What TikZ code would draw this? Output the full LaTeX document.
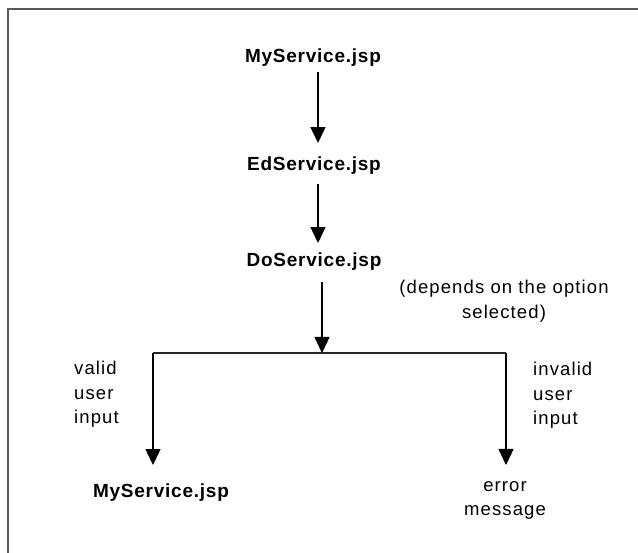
\documentclass[tikz,border=0pt]{standalone}
\usepackage{fontspec}
\setmainfont{Liberation Sans}
\newfontfamily\lblfont[LetterSpace=6]{Liberation Sans}
\newfontfamily\pagefont[LetterSpace=4]{Liberation Sans}
\usetikzlibrary{arrows.meta}

\begin{document}
\begin{tikzpicture}[x=1pt,y=-1pt,
  page/.style={font=\pagefont\bfseries\fontsize{19}{23}\selectfont, inner sep=0pt, anchor=base},
  note/.style={font=\lblfont\fontsize{18.5}{24.5}\selectfont, inner sep=0pt},
  flow/.style={line width=1.3pt, draw=black, -{Triangle[width=15pt,length=16pt]}},
  bar/.style={line width=1.6pt, draw=black!85},
  frame/.style={line width=2pt, draw=black!65}]

  \useasboundingbox (0,0) rectangle (638,553);

  % outer frame, running off the right and bottom edges
  \draw[frame] (8,560) -- (8,9) -- (645,9);

  % pages
  \node[page] (top) at (313,63)  {MyService.jsp};
  \node[page] (ed)  at (314,171) {EdService.jsp};
  \node[page] (do)  at (314,267) {DoService.jsp};
  \node[page] (res) at (161,498) {MyService.jsp};

  % notes
  \node[note, anchor=north, align=center] (dep) at (504,280) {(depends on the option\\selected)};
  \node[note, anchor=north west, align=left] (ok) at (74,361) {valid\\user\\input};
  \node[note, anchor=north west, align=left] (bad) at (533,362) {invalid\\user\\input};
  \node[note, anchor=north, align=center] (err) at (505,481) {error\\message};

  % branch points
  \coordinate (split) at (322,353);
  \coordinate (lb) at (153,353);
  \coordinate (rb) at (506,353);

  % flow
  \draw[flow, shorten <=5pt, shorten >=14pt] ([xshift=5pt]top.south) -- ([xshift=5pt]top.south |- ed.north);
  \draw[flow, shorten <=9pt, shorten >=10pt] ([xshift=4pt]ed.south) -- ([xshift=4pt]ed.south |- do.north);
  \draw[flow, shorten <=11pt] ([xshift=8pt]do.south) -- (split);
  \draw[bar] (lb) -- (rb);
  \draw[flow, shorten >=19pt] (lb) -- (lb |- res.north);
  \draw[flow, shorten >=16pt] (rb) -- (rb |- err.north);
\end{tikzpicture}
\end{document}
